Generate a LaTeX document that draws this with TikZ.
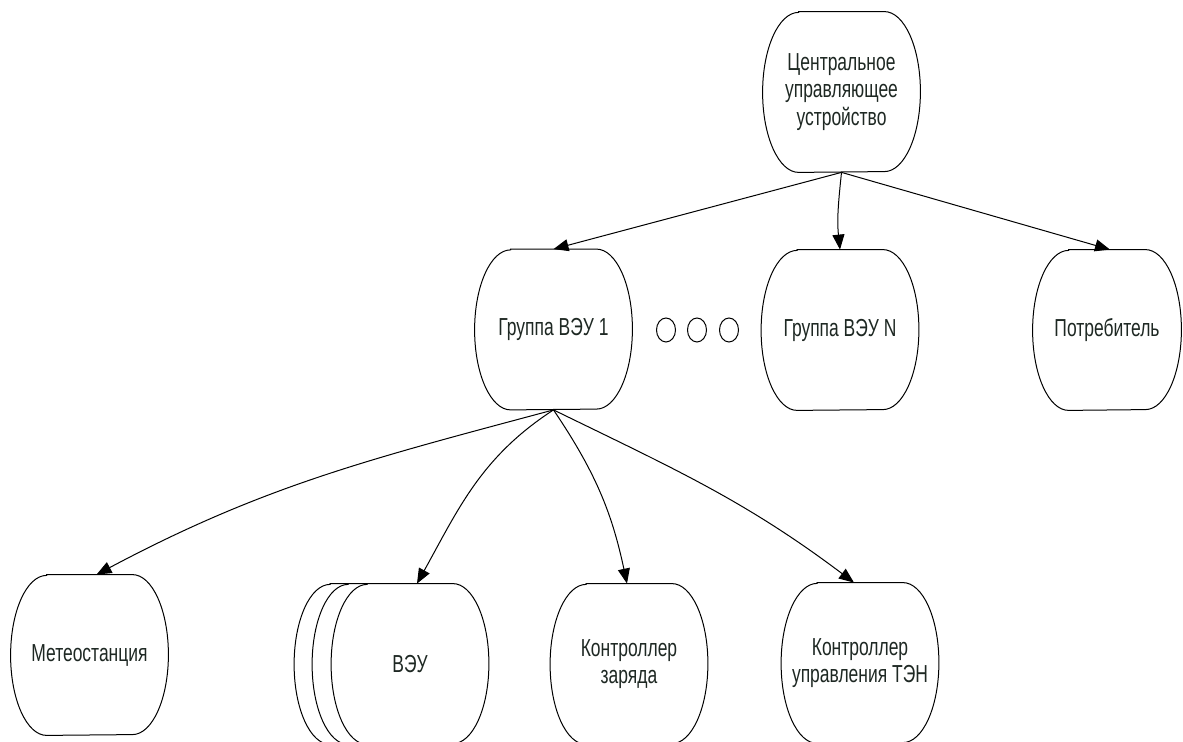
\documentclass[tikz,border=0pt]{standalone}
\usepackage{fontspec}
\setmainfont{Liberation Sans}[FakeStretch=0.71]
\usetikzlibrary{arrows.meta,backgrounds}
\definecolor{txt}{RGB}{30,40,35}
\begin{document}
\begin{tikzpicture}[x=0.5pt,y=0.5pt,
  barrel/.style={minimum width=78.5pt,minimum height=80pt,inner sep=0pt,align=center,
    font=\fontsize{12.3}{13.8}\selectfont,text=txt},
  conn/.style={-{Triangle[length=7.5pt,width=6pt]},line width=0.5pt},
  outline/.style={draw=black,line width=0.5pt,fill=white}]
\path[use as bounding box,clip] (0,0) rectangle (1183,-742);

\node[barrel] (c) at (841.5,-92) {Центральное\\управляющее\\устройство};
\node[barrel] (g1) at (553.5,-329.5) {Группа ВЭУ 1};
\node[barrel] (gn) at (840,-330) {Группа ВЭУ N};
\node[barrel,minimum width=74pt] (p) at (1107,-330) {Потребитель};
\node[barrel] (m) at (89.5,-655) {Метеостанция};
\node[barrel] (v3) at (373,-664) {};
\node[barrel] (v2) at (391,-664) {};
\node[barrel] (v) at (410,-664) {ВЭУ};
\node[barrel] (kz) at (629,-664) {Контроллер\\заряда};
\node[barrel] (kt) at (860,-663) {Контроллер\\управления ТЭН};

\begin{pgfonlayer}{background}
\foreach \n in {v3,v2,v,m,kz,kt,g1,gn,p,c}
  \draw[outline] ([xshift=18pt]\n.north west) -- ([xshift=-18pt]\n.north east)
    arc[start angle=90,end angle=-90,x radius=18pt,y radius=40pt]
    -- ([xshift=18pt]\n.south west)
    arc[start angle=270,end angle=90,x radius=18pt,y radius=40pt] -- cycle;
\end{pgfonlayer}

\foreach \x in {666,697,729}
  \draw[line width=0.5pt] (\x,-330) ellipse [x radius=9.5, y radius=12];

\draw[conn] (c.south) -- (g1.north);
\draw[conn] (c.south) to[out=-96,in=96] (gn.north);
\draw[conn] (c.south) -- ([xshift=1.5pt]p.north);
\draw[conn] (g1.south) to[out=195,in=28] ([xshift=3.5pt]m.north);
\draw[conn] (g1.south) to[out=213,in=61] ([xshift=3.5pt]v.north);
\draw[conn] (g1.south) to[out=-56,in=102] ([xshift=-1pt]kz.north);
\draw[conn] (g1.south) to[out=-26,in=143] ([xshift=-3pt]kt.north);
\end{tikzpicture}
\end{document}
